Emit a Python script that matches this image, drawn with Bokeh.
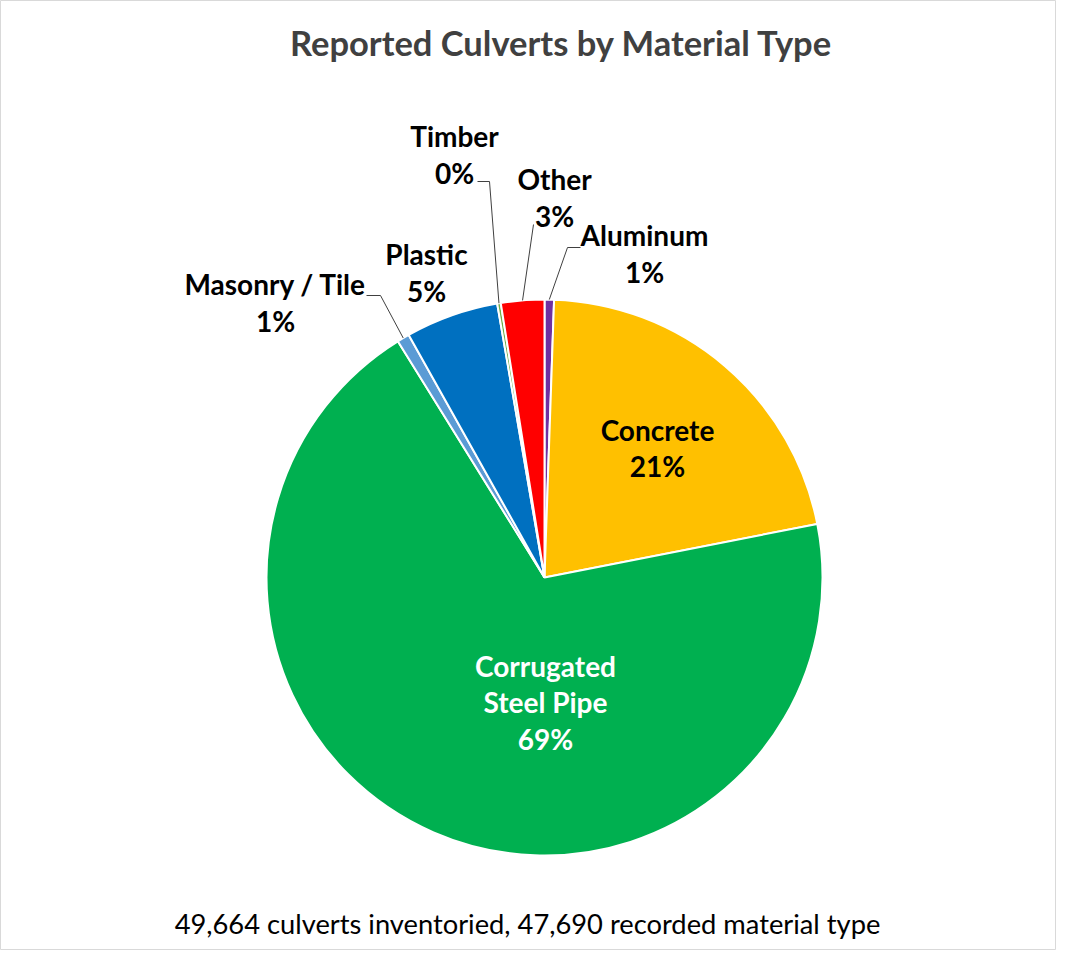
import numpy as np
from bokeh.plotting import figure
from bokeh.models import ColumnDataSource, Range1d
from bokeh.core.properties import value
from bokeh.embed import file_html
from bokeh.resources import INLINE

# ---------------- data ----------------
categories = ["Aluminum", "Concrete", "Corrugated Steel Pipe", "Masonry / Tile",
              "Plastic", "Timber", "Other"]
label_names = ["Aluminum", "Concrete", "Corrugated\nSteel Pipe", "Masonry / Tile",
               "Plastic", "Timber", "Other"]
counts = [262, 10190, 33020, 345, 2575, 98, 1200]
title_text = "Reported Culverts by Material Type"
footnote_text = "49,664 culverts inventoried, 47,690 recorded material type"

# ---------------- style / layout ----------------
colors = ["#7030A0", "#FFC000", "#00B050", "#5B9BD5", "#0070C0", "#70AD47", "#FF0000"]
label_colors = ["#000000", "#000000", "#FFFFFF", "#000000", "#000000", "#000000", "#000000"]
# label block centres (pixels)
label_x = [644, 657, 545, 275, 426, 454, 554]
label_y = [253, 447.5, 702, 302, 272, 154, 197]
# leader line start / elbow points (pixels)
leader_pts = {
    "Aluminum": [(580, 247), (567, 247)],
    "Masonry / Tile": [(366, 295), (380, 295)],
    "Timber": [(477, 181), (489, 181)],
    "Other": [(533, 224)],
}

W, H = 1056, 950
CX, CY, R = 544, 577, 278
FONT = "Lato"

p = figure(width=W, height=H, x_range=Range1d(0, W), y_range=Range1d(-H, 0),
           output_backend="svg", toolbar_location=None, min_border=0,
           x_axis_type=None, y_axis_type=None)
p.grid.visible = False
p.outline_line_color = "#D9D9D9"
p.outline_line_width = 1
p.background_fill_color = "white"
p.border_fill_color = "white"

total = float(sum(counts))
frac = np.array(counts) / total
cum_end = np.cumsum(frac)
cum_start = cum_end - frac
start_angle = np.pi / 2 - 2 * np.pi * cum_start
end_angle = np.pi / 2 - 2 * np.pi * cum_end
mid_angle = (start_angle + end_angle) / 2

src = ColumnDataSource(dict(cat=categories, start=start_angle, end=end_angle, color=colors))
p.wedge(x=CX, y=-CY, radius=R, start_angle="start", end_angle="end", direction="clock",
        fill_color="color", line_color="white", line_width=2, source=src)

# labels
pct = [f"{int(round(f * 100))}%" for f in frac]
texts = [f"{n}\n{q}" for n, q in zip(label_names, pct)]
lsrc = ColumnDataSource(dict(x=label_x, y=[-v for v in label_y], text=texts, color=label_colors))
p.text(x="x", y="y", text="text", source=lsrc, text_align="center", text_baseline="middle",
       text_font=value(FONT), text_font_style="bold", text_font_size="28px",
       text_color="color", text_line_height=1.06)

# leader lines
xs, ys = [], []
for i, c in enumerate(categories):
    if c in leader_pts:
        pts = leader_pts[c]
        ex = CX + R * np.cos(mid_angle[i])
        ey = CY - R * np.sin(mid_angle[i])
        xs.append([pt[0] for pt in pts] + [ex])
        ys.append([-pt[1] for pt in pts] + [-ey])
p.multi_line(xs=xs, ys=ys, line_color="#404040", line_width=1)

# title & footnote
p.text(x=[561], y=[-42], text=[title_text], text_align="center", text_baseline="middle",
       text_font=value(FONT), text_font_style="bold", text_font_size="34.5px", text_color="#404040")
p.text(x=[527], y=[-923], text=[footnote_text], text_align="center", text_baseline="middle",
       text_font=value(FONT), text_font_size="27.3px", text_color="#000000")

open("out.html", "w").write(file_html(p, INLINE))
